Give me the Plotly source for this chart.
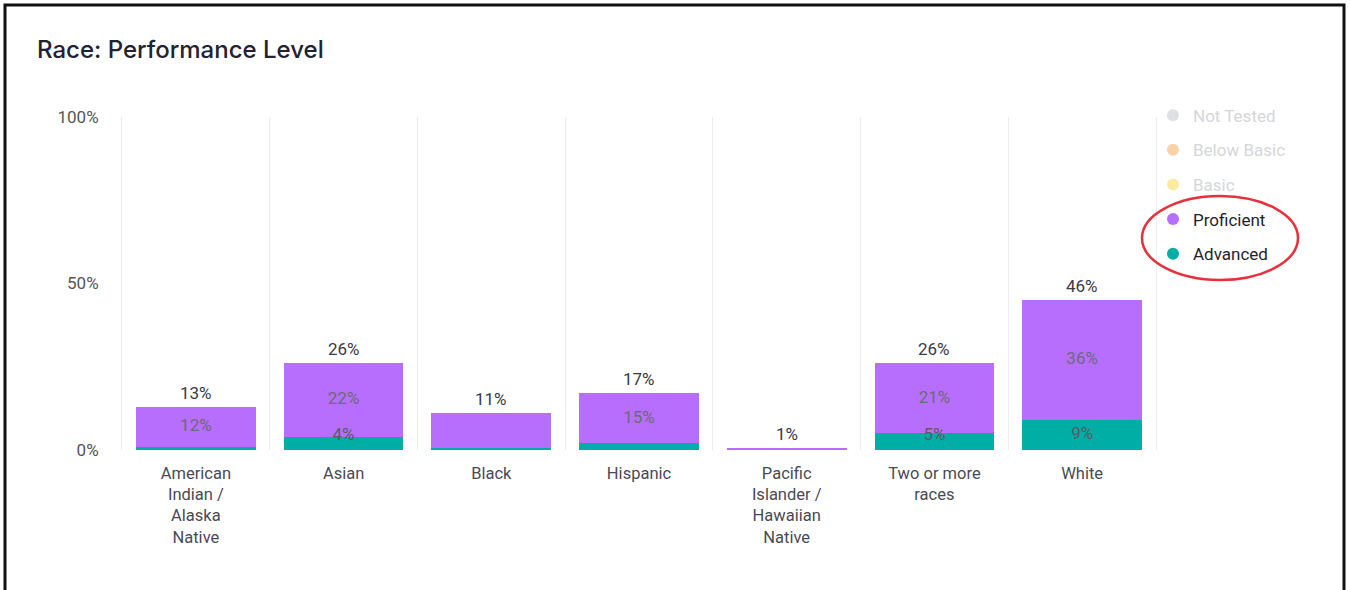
import plotly.graph_objects as go

categories = ["American<br>Indian /<br>Alaska<br>Native", "Asian", "Black", "Hispanic",
              "Pacific<br>Islander /<br>Hawaiian<br>Native", "Two or more<br>races", "White"]
advanced = [1.0, 4.0, 0.7, 2.0, 0.0, 5.0, 9.0]
proficient = [12.0, 22.0, 10.3, 15.0, 0.6, 21.0, 36.0]
total_labels = ["13%", "26%", "11%", "17%", "1%", "26%", "46%"]
prof_labels = ["12%", "22%", "", "15%", "", "21%", "36%"]
adv_labels = ["", "4%", "", "", "", "5%", "9%"]
y_ticks = [0, 50, 100]
y_tick_labels = ["0%", "50%", "100%"]
legend_names = ["Not Tested", "Below Basic", "Basic", "Proficient", "Advanced"]
legend_colors = ["#dde1e6", "#fbd2a8", "#fbeaa0", "#b86efc", "#00aea6"]
legend_text_colors = ["#d4d6d9", "#d4d6d9", "#d4d6d9", "#1f1f2e", "#1f1f2e"]

PURPLE = "#b86efc"
TEAL = "#00aea6"
FONT = "Roboto"
GRID = "#ececec"

totals = [a + p for a, p in zip(advanced, proficient)]

fig = go.Figure()
fig.add_trace(go.Bar(x=categories, y=advanced, marker_color=TEAL, marker_line_width=0,
                     showlegend=False, hoverinfo="skip"))
fig.add_trace(go.Bar(x=categories, y=proficient, marker_color=PURPLE, marker_line_width=0,
                     showlegend=False, hoverinfo="skip"))

# segment labels
fig.add_trace(go.Scatter(x=categories, y=[a + p / 2 for a, p in zip(advanced, proficient)],
                         mode="text", text=prof_labels, textposition="middle center",
                         textfont=dict(family=FONT, size=17, color="#6a6a78"),
                         showlegend=False, hoverinfo="skip"))
fig.add_trace(go.Scatter(x=categories, y=[max(a / 2, 4.2) for a in advanced],
                         mode="text", text=adv_labels, textposition="middle center",
                         textfont=dict(family=FONT, size=17, color="#5a5a68"),
                         showlegend=False, hoverinfo="skip"))
# total labels
for c, t, lbl in zip(categories, totals, total_labels):
    fig.add_annotation(x=c, y=t, text=lbl, showarrow=False, yanchor="middle", yshift=14,
                       font=dict(family=FONT, size=17, color="#3a3a46"))

# legend entries
for i, (n, c, tc) in enumerate(zip(legend_names, legend_colors, legend_text_colors)):
    fig.add_trace(go.Scatter(x=[None], y=[None], mode="markers",
                             marker=dict(symbol="circle", size=13, color=c),
                             name=f"<span style='color:{tc}'>{n}</span>",
                             legendgroup=f"g{i}", showlegend=True))

fig.update_layout(
    width=1350, height=590,
    barmode="stack", bargap=0.19,
    paper_bgcolor="white", plot_bgcolor="white",
    margin=dict(l=122, r=194, t=117, b=140),
    font=dict(family=FONT, size=17, color="#444"),
    title=dict(text="Race: Performance Level", x=37 / 1350, xanchor="left",
               y=1 - 50 / 590, yanchor="middle",
               font=dict(family="Inter", size=24, color="#222233", weight=500)),
    legend=dict(x=1 - 3 / 1034, xanchor="left", y=1.058, yanchor="top",
                font=dict(family=FONT, size=17), tracegroupgap=9.5,
                itemsizing="constant", bgcolor="rgba(0,0,0,0)"),
    showlegend=True,
)
fig.update_xaxes(type="category", tickson="boundaries", showgrid=True, gridcolor=GRID,
                 gridwidth=1, showline=False, zeroline=False, ticks="",
                 tickfont=dict(family=FONT, size=16.5, color="#4a4a55"),
                 ticklabelstandoff=11)
fig.update_yaxes(range=[0, 100], tickvals=y_ticks, ticktext=y_tick_labels, showgrid=False,
                 zeroline=False, showline=True, mirror=True, linecolor=GRID, linewidth=1,
                 ticks="",
                 tickfont=dict(family=FONT, size=17, color="#555"),
                 ticklabelstandoff=19)

# red hand-drawn highlight ellipse around Proficient / Advanced
pw, ph = 1350 - 122 - 194, 590 - 117 - 140
fig.add_shape(type="circle", xref="paper", yref="paper",
              x0=(1142 - 122) / pw, x1=(1298 - 122) / pw,
              y0=(450 - 280) / ph, y1=(450 - 196) / ph,
              line=dict(color="#e8303a", width=2.5))
# outer frame
fig.add_shape(type="rect", xref="paper", yref="paper",
              x0=(5 - 122) / pw, x1=(1344 - 122) / pw,
              y0=(450 - 620) / ph, y1=(450 - 5) / ph,
              line=dict(color="#111", width=3))

fig.write_html("out.html", config={"displayModeBar": False},
               post_script="document.body.style.margin='0';")
